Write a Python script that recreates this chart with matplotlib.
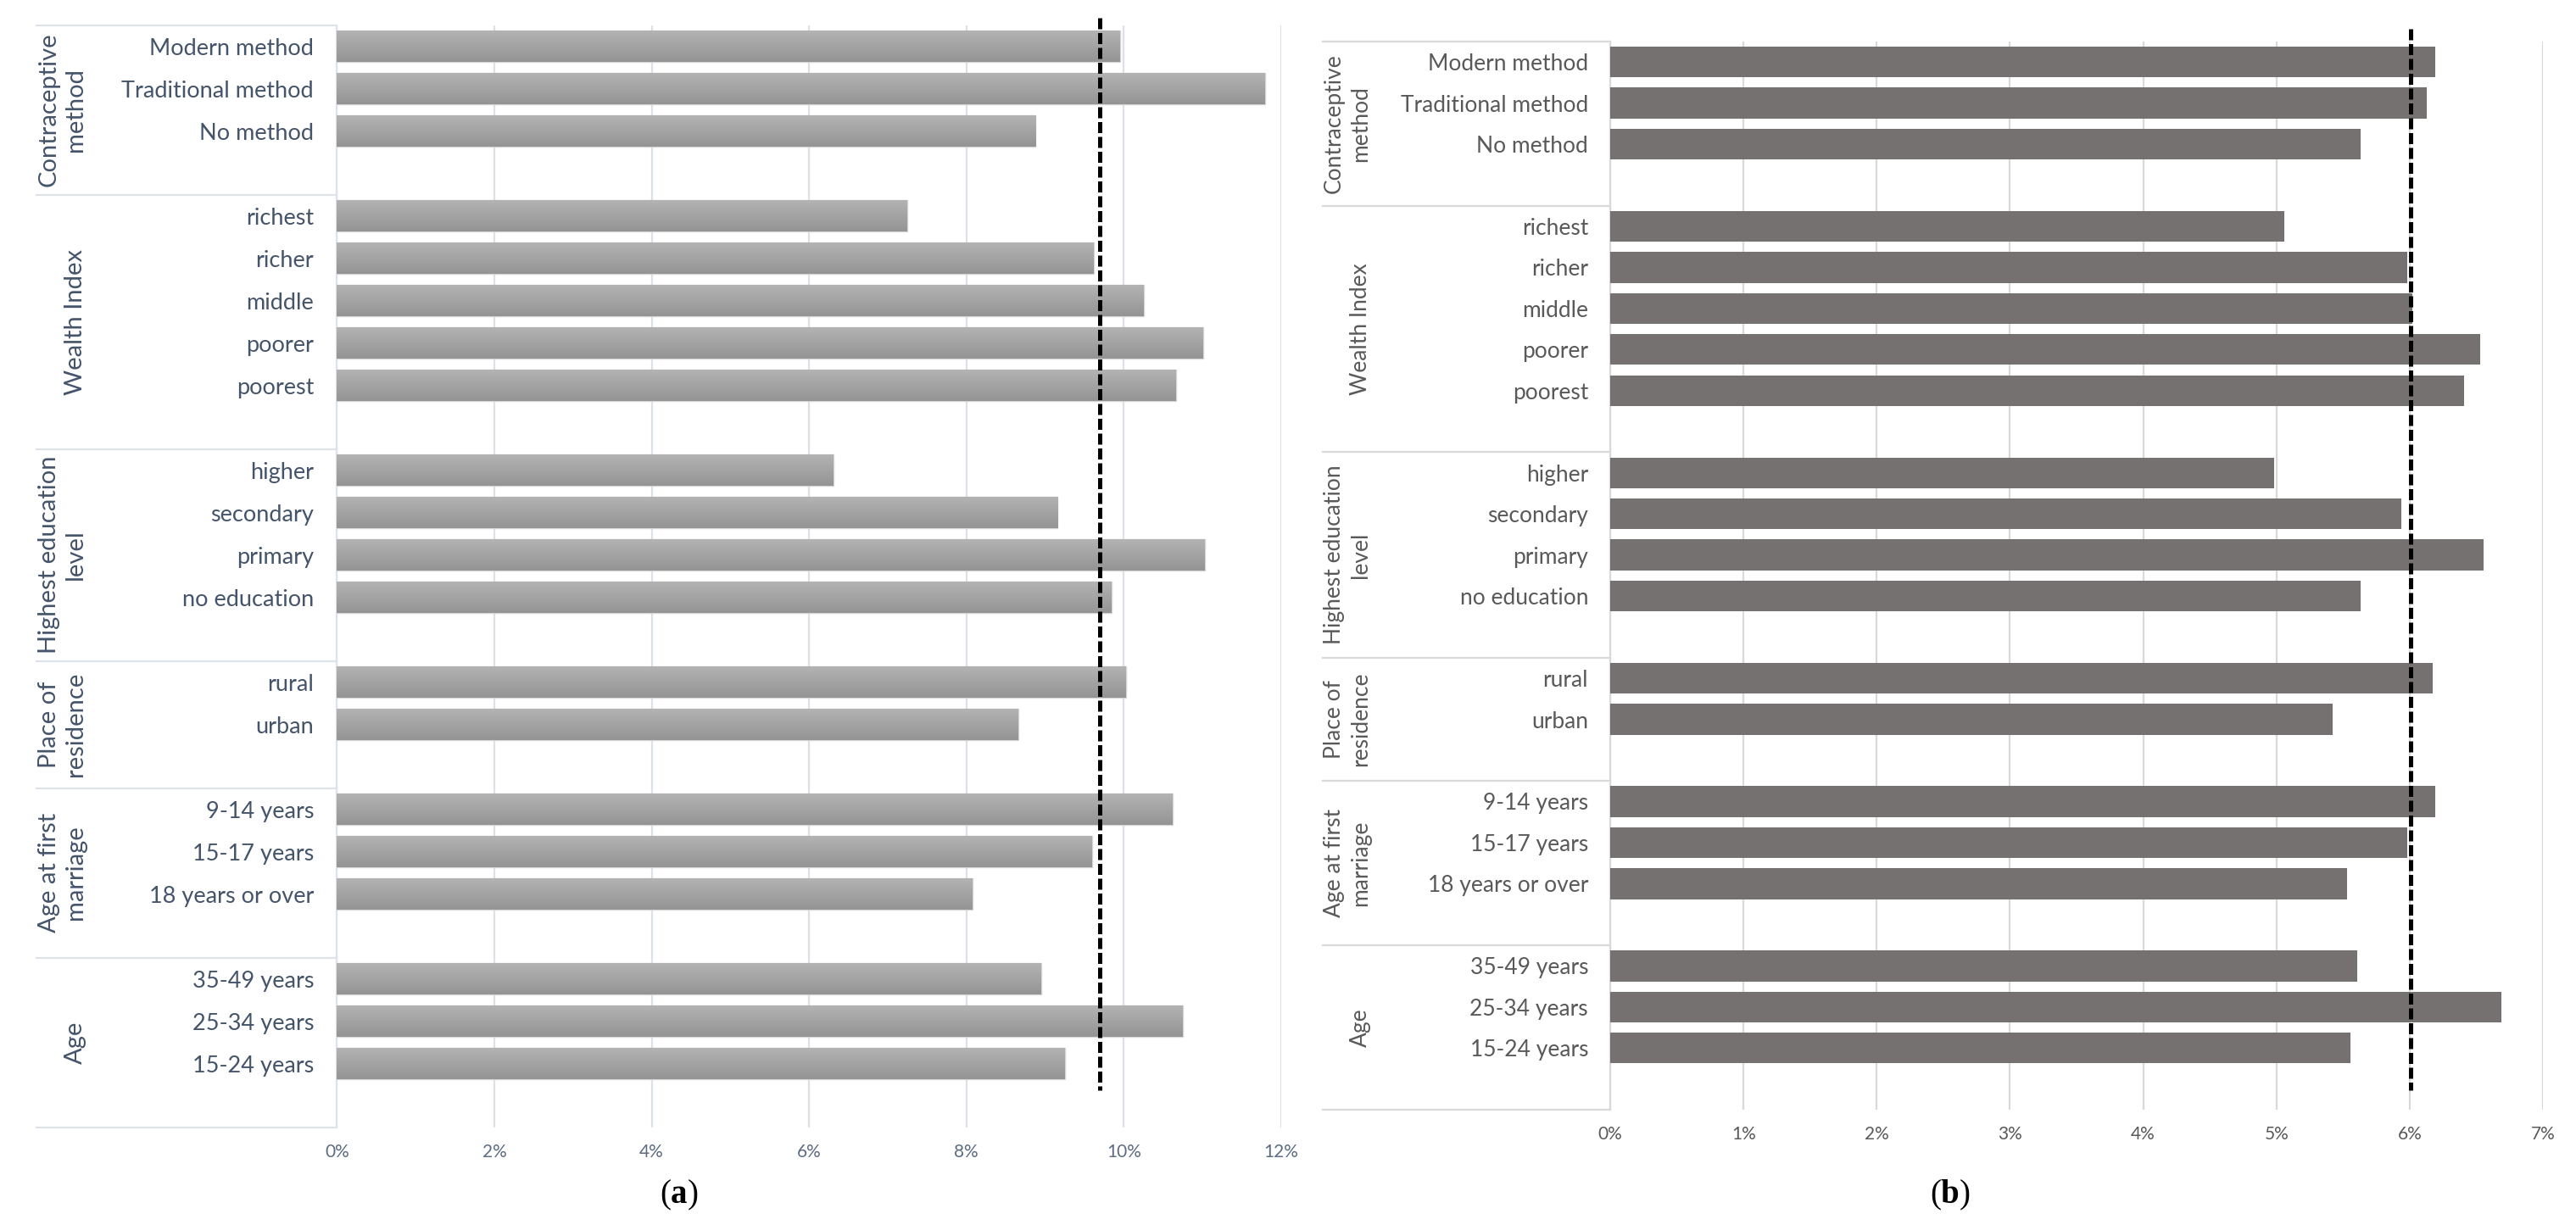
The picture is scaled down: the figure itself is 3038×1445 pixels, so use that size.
import numpy as np
import matplotlib
matplotlib.use("Agg")
import matplotlib.pyplot as plt
from matplotlib.colors import LinearSegmentedColormap

plt.rcParams['font.family'] = ['Lato', 'DejaVu Sans']
plt.rcParams['mathtext.fontset'] = 'custom'
plt.rcParams['mathtext.rm'] = 'Liberation Serif'
plt.rcParams['mathtext.bf'] = 'Liberation Serif:bold'

# ---------------- data ----------------
groups = ["Contraceptive\nmethod", "Wealth Index", "Highest education\nlevel",
          "Place of\nresidence", "Age at first\nmarriage", "Age"]
contraceptive = ["Modern method", "Traditional method", "No method"]
wealth = ["richest", "richer", "middle", "poorer", "poorest"]
education = ["higher", "secondary", "primary", "no education"]
residence = ["rural", "urban"]
age_marriage = ["9-14 years", "15-17 years", "18 years or over"]
age = ["35-49 years", "25-34 years", "15-24 years"]
group_categories = [contraceptive, wealth, education, residence, age_marriage, age]

values_a = [9.95, 11.79, 8.88,
            7.25, 9.62, 10.25, 11.01, 10.66,
            6.31, 9.16, 11.03, 9.84,
            10.03, 8.66,
            10.62, 9.60, 8.08,
            8.95, 10.75, 9.25]
values_b = [6.19, 6.13, 5.63,
            5.06, 5.98, 6.02, 6.53, 6.41,
            4.98, 5.94, 6.555, 5.63,
            6.17, 5.42,
            6.19, 5.98, 5.53,
            5.605, 6.69, 5.556]
average_a = 9.69
average_b = 6.01

ticks_a = [0, 2, 4, 6, 8, 10, 12]
tick_labels_a = ["0%", "2%", "4%", "6%", "8%", "10%", "12%"]
ticks_b = [0, 1, 2, 3, 4, 5, 6, 7]
tick_labels_b = ["0%", "1%", "2%", "3%", "4%", "5%", "6%", "7%"]
panel_labels = ["a", "b"]

# ---------------- slot layout ----------------
cat_labels = []
cat_pos = []
group_spans = []
slot = 0
for cats in group_categories:
    start = slot
    for c in cats:
        cat_labels.append(c)
        cat_pos.append(slot)
        slot += 1
    slot += 1  # empty slot closing each group
    group_spans.append((start - 0.5, slot - 0.5))
n_slots = slot

W, H = 3038, 1445
fig = plt.figure(figsize=(W / 100, H / 100), dpi=100)

def px_axes(x0, x1, ytop, ybot):
    return [x0 / W, 1 - ybot / H, (x1 - x0) / W, (ybot - ytop) / H]

panels = [
    dict(rect=px_axes(397.4, 1511, 29.6, 1329.6), vals=values_a, avg=average_a,
         ticks=ticks_a, tlabels=tick_labels_a, xmax=12,
         text_color="#44546A", tick_color="#5d6c82", grid_color="#dce1e8",
         box_color="#dde3ea", gradient=True, bar_color="#a6a6a6",
         box_left=-0.3183, grp_right=-0.2653, ypad=19.7,
         cat_fs=19.5, grp_fs=21, grp_ls=1.25,
         dash_y=(-0.68, 24.63), label_x=801),
    dict(rect=px_axes(1899, 2999, 48.8, 1309), vals=values_b, avg=average_b,
         ticks=ticks_b, tlabels=tick_labels_b, xmax=7,
         text_color="#595959", tick_color="#595959", grid_color="#d9d9d9",
         box_color="#d9d9d9", gradient=False, bar_color="#767171",
         box_left=-0.3082, grp_right=-0.2564, ypad=18.7,
         cat_fs=19, grp_fs=19, grp_ls=1.3,
         dash_y=(-0.8, 25.03), label_x=2300),
]

cmap = LinearSegmentedColormap.from_list("g", ["#b4b4b4", "#949494"])
grad = np.linspace(0, 1, 64).reshape(-1, 1)

for p, plab in zip(panels, panel_labels):
    ax = fig.add_axes(p["rect"])
    bh = 0.75
    bars = ax.barh(cat_pos, p["vals"], height=bh, color=p["bar_color"],
                   edgecolor="#d6d6d6" if p["gradient"] else "none",
                   linewidth=1.0, zorder=2)
    if p["gradient"]:
        for b, yv, v in zip(bars, cat_pos, p["vals"]):
            im = ax.imshow(grad, extent=(0, v, yv + bh / 2, yv - bh / 2),
                           aspect="auto", cmap=cmap, origin="upper",
                           zorder=2.5, interpolation="bilinear")
            im.set_clip_path(b)
    ax.set_xlim(0, p["xmax"])
    ax.set_ylim(n_slots - 0.5, -0.5)
    ax.set_xticks(p["ticks"])
    ax.set_xticklabels(p["tlabels"], fontsize=15, color=p["tick_color"])
    ax.set_yticks(cat_pos)
    ax.set_yticklabels(cat_labels, fontsize=p["cat_fs"], color=p["text_color"])
    ax.tick_params(axis="both", length=0)
    ax.tick_params(axis="y", pad=p["ypad"])
    ax.tick_params(axis="x", pad=14)
    ax.grid(axis="x", color=p["grid_color"], linewidth=1.6, zorder=0)
    ax.set_axisbelow(True)
    for s in ax.spines.values():
        s.set_visible(False)
    # category axis line and group boxes
    tr = ax.get_yaxis_transform()
    ax.plot([0, 0], [-0.5, n_slots - 0.5], transform=tr, color=p["box_color"],
            lw=1.6, clip_on=False, zorder=1)
    bounds = sorted(set([b for span in group_spans for b in span]))
    for yb in bounds:
        ax.plot([p["box_left"], 0], [yb, yb], transform=tr, color=p["box_color"],
                lw=1.6, clip_on=False, zorder=1)
    for gname, (y0, y1) in zip(groups, group_spans):
        ax.text(p["grp_right"], (y0 + y1) / 2, gname, transform=tr, rotation=90,
                ha="right", va="center", multialignment="center",
                fontsize=p["grp_fs"], color=p["text_color"],
                linespacing=p["grp_ls"])
    # average dashed line
    ax.plot([p["avg"], p["avg"]], list(p["dash_y"]), color="black", lw=3.6,
            linestyle=(0, (2.6, 0.9)), clip_on=False, zorder=5)
    fig.text(p["label_x"] / W, 1 - 1410 / H, r"($\mathbf{" + plab + r"}$)",
             ha="center", va="center", fontsize=28,
             family=["Liberation Serif", "DejaVu Serif"], color="black")

fig.savefig("out.png", dpi=100, facecolor="white")
